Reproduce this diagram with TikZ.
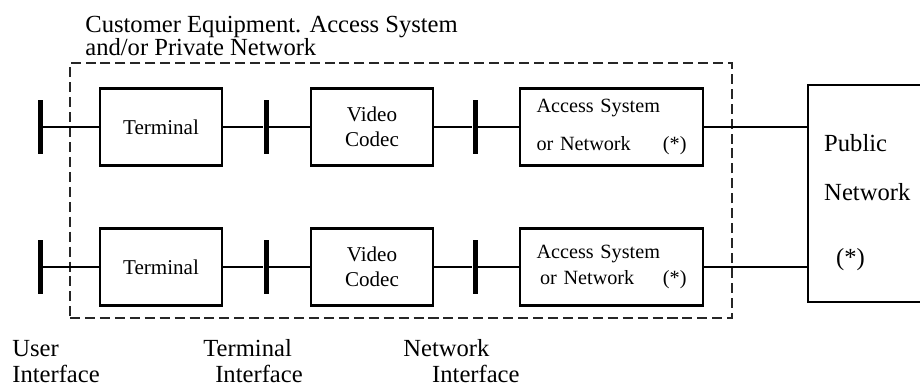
\documentclass[tikz,border=0pt]{standalone}
\usepackage{fontspec}
\setmainfont{Liberation Serif}
\usetikzlibrary{positioning}
\setlength{\lineskiplimit}{-10pt}

\begin{document}
\begin{tikzpicture}[
  box/.style={draw, line width=1.4pt, minimum width=2.44cm, minimum height=1.54cm, align=center, font=\fontsize{12}{14}\selectfont},
  accbox/.style={box, minimum width=3.66cm, text width=3.0cm, inner xsep=0.33cm, align=left, font=\fontsize{11.5}{14}\selectfont},
  ifbar/.style={fill, inner sep=0pt, minimum width=0.1cm, minimum height=1.08cm},
  wire/.style={line width=1.3pt},
  bigtext/.style={inner sep=0pt, align=left, font=\fontsize{14}{14.7}\selectfont}
]
\useasboundingbox (0,0) rectangle (18.4,7.74);

\node[draw=black!85, line width=0.9pt, dash pattern=on 5.7pt off 2.8pt, minimum width=13.24cm, minimum height=5.1cm, inner sep=0pt] (cpe) at (8.02,3.93) {};

\node[bigtext, font=\fontsize{14}{13}\selectfont, anchor=north west] (title) at (1.7,7.42) {Customer Equipment. Access System\\and/or Private Network};

\node[ifbar] (ui1) at (0.8,5.2) {};
\node[box] (term1) at (3.22,5.2) {Terminal};
\node[ifbar] (ti1) at (5.32,5.2) {};
\node[box] (codec1) at (7.44,5.2) {Video\\Codec};
\node[ifbar] (ni1) at (9.5,5.2) {};
\node[accbox] (acc1) at (12.23,5.2) {Access System\\[8pt]or Network\hfill(*)};

\node[ifbar] (ui2) at (0.8,2.4) {};
\node[box] (term2) at (3.22,2.4) {Terminal};
\node[ifbar] (ti2) at (5.32,2.4) {};
\node[box] (codec2) at (7.44,2.4) {Video\\Codec};
\node[ifbar] (ni2) at (9.5,2.4) {};
\node[accbox] (acc2) at (12.23,2.4) {Access System\\[1.3pt]\hspace*{2pt}or Network\hfill(*)};

\node[draw, line width=1.4pt, anchor=west, minimum height=4.34cm, text width=2.0cm, inner xsep=0.32cm, align=left, font=\fontsize{14}{16}\selectfont] (pub) at (16.14,3.87) {\rule{0pt}{20pt}Public\\[12.4pt]Network\\[20.9pt]\hspace*{6.8pt}(*)};

\draw[wire] (ui1) -- (term1);
\draw[wire] (term1) -- (ti1) -- (codec1);
\draw[wire] (codec1) -- (ni1) -- (acc1);
\draw[wire] (acc1.east) -- (acc1.east -| pub.west);

\draw[wire] (ui2) -- (term2);
\draw[wire] (term2) -- (ti2) -- (codec2);
\draw[wire] (codec2) -- (ni2) -- (acc2);
\draw[wire] (acc2.east) -- (acc2.east -| pub.west);

\node[bigtext, anchor=south west] (uif) at (0.24,0.08) {User\\Interface};
\node[bigtext, anchor=south west] (tif) at (4.06,0.08) {Terminal\\\hspace*{6.8pt}Interface};
\node[bigtext, anchor=south west] (nif) at (8.06,0.08) {Network\\\hspace*{16.4pt}Interface};
\end{tikzpicture}
\end{document}
